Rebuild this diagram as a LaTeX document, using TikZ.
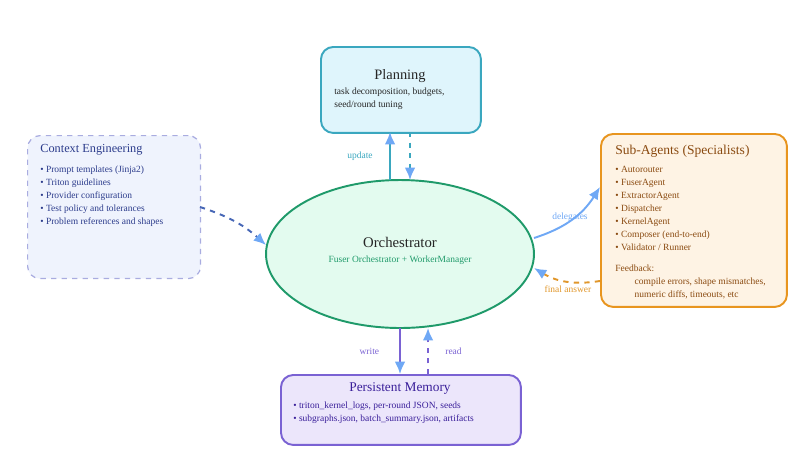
\documentclass[tikz,border=0pt]{standalone}
\usepackage{fontspec}
\setmainfont{Liberation Serif}
\usetikzlibrary{shapes.geometric,arrows.meta,positioning}
\definecolor{planfill}{HTML}{DFF5FC}
\definecolor{plandraw}{HTML}{3AA7BF}
\definecolor{ctxfill}{HTML}{EFF3FD}
\definecolor{ctxdraw}{HTML}{A9ACE0}
\definecolor{ctxtext}{HTML}{2C3C8C}
\definecolor{subfill}{HTML}{FEF3E4}
\definecolor{subdraw}{HTML}{E8951F}
\definecolor{subtext}{HTML}{8A4A10}
\definecolor{memfill}{HTML}{ECE6FB}
\definecolor{memdraw}{HTML}{7A62D3}
\definecolor{memtext}{HTML}{3A1F9A}
\definecolor{orchfill}{HTML}{E3FBEF}
\definecolor{orchdraw}{HTML}{1F9A6A}
\definecolor{tipblue}{HTML}{6FA8F5}
\definecolor{finalc}{HTML}{E0962A}
\begin{document}
\begin{tikzpicture}[x=0.02cm, y=-0.02cm,
	box/.style={draw, rectangle, rounded corners=7pt, line width=1.1pt, anchor=north west},
	title/.style={font=\fontsize{8.2}{10}\selectfont},
	body/.style={font=\fontsize{5.4}{7.4}\selectfont, align=left, anchor=north west, inner sep=0pt},
	tip/.style={-{Latex[length=7pt,width=6pt,color=tipblue,fill=tipblue]}},
	lbl/.style={font=\fontsize{5.4}{7}\selectfont}]
	\useasboundingbox (0,0) rectangle (800,467);
	%% Boxes
	\node [box, fill=planfill, draw=plandraw, minimum width=3.2cm, minimum height=1.72cm] (plan) at (320,46) {};
	\node [box, fill=ctxfill, draw=ctxdraw, dashed, line width=0.7pt, minimum width=3.46cm, minimum height=2.86cm] (ctx) at (27,135) {};
	\node [box, fill=subfill, draw=subdraw, minimum width=3.72cm, minimum height=3.46cm] (sub) at (600,133) {};
	\node [box, fill=memfill, draw=memdraw, minimum width=4.8cm, minimum height=1.4cm] (mem) at (280,374) {};
	\node [ellipse, draw=orchdraw, fill=orchfill, line width=1.1pt, minimum width=5.36cm, minimum height=2.96cm] (orch) at (400,254) {};
	%% Texts
	\node [title, text=black!85] (planT) at (400,76) {Planning};
	\node [body, text=black!85] (planB) at (334,88) {task decomposition, budgets,\\seed/round tuning};
	\node [title, font=\fontsize{7}{9}\selectfont, text=ctxtext, anchor=west, inner sep=0pt] (ctxT) at (40,150) {Context Engineering};
	\node [body, text=ctxtext] (ctxB) at (40,166) {\textbullet{} Prompt templates (Jinja2)\\\textbullet{} Triton guidelines\\\textbullet{} Provider configuration\\\textbullet{} Test policy and tolerances\\\textbullet{} Problem references and shapes};
	\node [title, font=\fontsize{7.7}{9}\selectfont, text=subtext, anchor=west, inner sep=0pt] (subT) at (615,151) {Sub-Agents (Specialists)};
	\node [body, text=subtext] (subB) at (615,166) {\textbullet{} Autorouter\\\textbullet{} FuserAgent\\\textbullet{} ExtractorAgent\\\textbullet{} Dispatcher\\\textbullet{} KernelAgent\\\textbullet{} Composer (end-to-end)\\\textbullet{} Validator / Runner};
	\node [body, text=subtext] (subF) at (615,265) {Feedback:\\\hspace*{11pt}compile errors, shape mismatches,\\\hspace*{11pt}numeric diffs, timeouts, etc};
	\node [title, font=\fontsize{7.6}{9}\selectfont, text=memtext] (memT) at (400,389) {Persistent Memory};
	\node [body, text=memtext] (memB) at (293,402) {\textbullet{} triton\_kernel\_logs, per-round JSON, seeds\\\textbullet{} subgraphs.json, batch\_summary.json, artifacts};
	\node [font=\fontsize{8.4}{10}\selectfont, text=black!85] (orchT) at (400,242) {Orchestrator};
	\node [lbl, text=orchdraw] (orchS) at (400,260) {Fuser Orchestrator + WorkerManager};
	%% Flows
	\coordinate (upA) at (390,180); \coordinate (upB) at (390,132);
	\coordinate (dnA) at (410,132); \coordinate (dnB) at (410,180);
	\draw [tip, plandraw, line width=1.1pt] (upA) -- node [lbl, left=6pt, text=plandraw] (updL) {update} (upB);
	\draw [tip, plandraw, line width=1.1pt, dashed] (dnA) -- (dnB);
	\coordinate (ctxO) at (200,207); \coordinate (orchW) at (266,245);
	\draw [tip, ctxtext!60!tipblue, line width=1.1pt, dashed] (ctxO) to [bend left=12] (orchW);
	\coordinate (orchE) at (534,238); \coordinate (subW) at (600,187);
	\draw [tip, tipblue, line width=1.1pt] (orchE) to [bend right=20] (subW);
	\node [lbl, text=tipblue] (delL) at (570,217) {delegates};
	\coordinate (subO) at (600,281); \coordinate (orchR) at (534,268);
	\draw [tip, finalc, line width=1.1pt, dashed] (subO) to [bend left=20] (orchR);
	\node [lbl, text=finalc] (finL) at (568,289) {final answer};
	\coordinate (wrA) at (400,328); \coordinate (wrB) at (400,374);
	\coordinate (rdA) at (428,374); \coordinate (rdB) at (428,328);
	\draw [tip, memdraw, line width=1.1pt] (wrA) -- node [lbl, left=8pt, text=memdraw] (wrL) {write} (wrB);
	\draw [tip, memdraw, line width=1.1pt, dashed] (rdA) -- node [lbl, right=6pt, text=memdraw] (rdL) {read} (rdB);
\end{tikzpicture}
\end{document}
